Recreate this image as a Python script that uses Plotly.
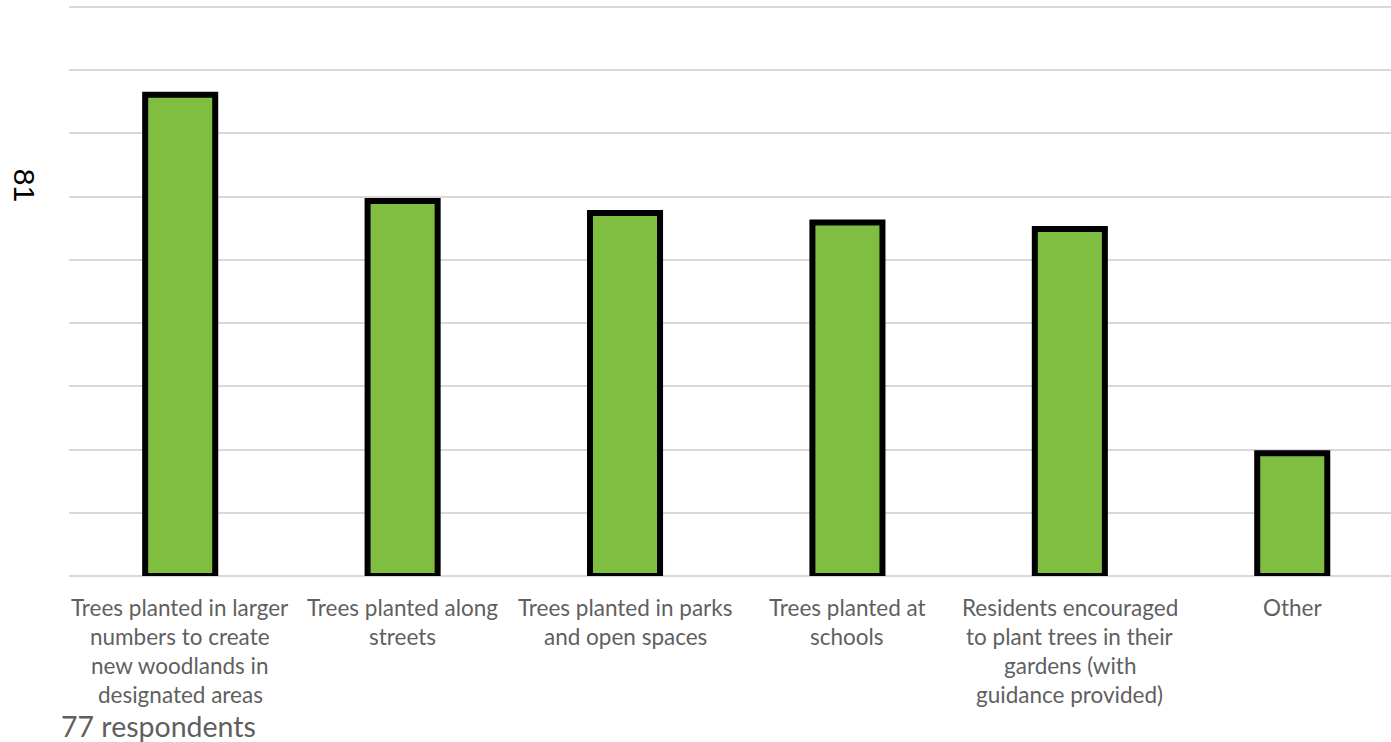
import plotly.graph_objects as go

categories = [
    "Trees planted in larger numbers to create new woodlands in designated areas",
    "Trees planted along streets",
    "Trees planted in parks and open spaces",
    "Trees planted at schools",
    "Residents encouraged to plant trees in their gardens (with guidance provided)",
    "Other",
]
label_lines = [
    ["Trees planted in larger", "numbers to create", "new woodlands in", "designated areas"],
    ["Trees planted along", "streets"],
    ["Trees planted in parks", "and open spaces"],
    ["Trees planted at", "schools"],
    ["Residents encouraged", "to plant trees in their", "gardens (with", "guidance provided)"],
    ["Other"],
]
values = [76.1, 59.3, 57.4, 55.9, 54.9, 19.4]
y_title = "81"
footnote = "77 respondents"

fig = go.Figure()
fig.add_trace(go.Bar(
    x=categories, y=values, width=0.315,
    marker=dict(color="#80BE41", line=dict(color="#000000", width=6)),
))

annotations = []
for cat, lines in zip(categories, label_lines):
    for i, ln in enumerate(lines):
        annotations.append(dict(
            x=cat, xref="x", y=0, yref="paper", text=ln, showarrow=False,
            yanchor="middle", xanchor="center", yshift=-31.5 - 29 * i,
            font=dict(family="Lato", size=22.5, color="#5f5f5f"),
        ))
annotations.append(dict(
    x=0, xref="paper", xshift=-10, y=0, yref="paper", yshift=-150, text=footnote,
    showarrow=False, xanchor="left", yanchor="middle",
    font=dict(family="Lato", size=28.5, color="#5f5f5f"),
))
annotations.append(dict(
    x=0, xref="paper", xshift=-45, y=0.684, yref="paper", text=y_title,
    showarrow=False, textangle=90, xanchor="center", yanchor="middle",
    font=dict(family="Liberation Sans", size=30, color="#000000"),
))

fig.update_layout(
    width=1391, height=742,
    margin=dict(l=69, r=0, t=4, b=165.5),
    paper_bgcolor="white", plot_bgcolor="white",
    showlegend=False,
    annotations=annotations,
    xaxis=dict(type="category", range=[-0.5, 5.444], showticklabels=False,
               showgrid=False, zeroline=False, showline=False, ticks=""),
    yaxis=dict(range=[0, 90.47], dtick=10, showticklabels=False, showgrid=True,
               gridcolor="#d9d9d9", gridwidth=2, zeroline=True,
               zerolinecolor="#d9d9d9", zerolinewidth=2, ticks=""),
)
fig.write_html("out.html", config={"displayModeBar": False},
               post_script="document.body.style.margin='0';")
